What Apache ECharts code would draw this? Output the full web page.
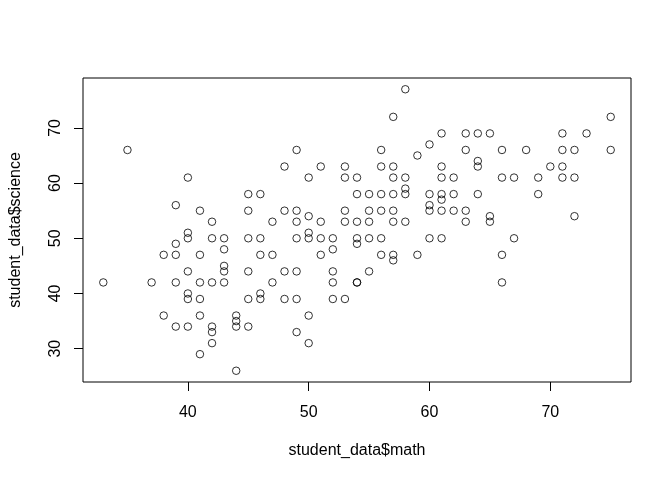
<!DOCTYPE html>
<html>
<head>
<meta charset="utf-8">
<script src="https://cdn.jsdelivr.net/npm/echarts@6/dist/echarts.min.js"></script>
<style>html,body{margin:0;padding:0;background:#fff}#c{width:672px;height:480px}</style>
</head>
<body>
<div id="c"></div>
<script>
const mathScores = [35,40,39,41,42,40,40,42,43,39,43,38,39,41,43,43,40,33,37,39,41,42,43,40,40,41,38,41,39,40,42,42,42,41,
49,48,51,53,50,53,54,45,46,54,45,48,49,53,47,49,50,51,53,54,50,
45,46,49,50,51,52,52,46,47,51,45,48,49,52,47,52,54,45,46,46,48,49,52,53,44,44,44,45,50,49,50,44,
58,57,61,63,64,65,60,56,63,59,64,64,56,57,61,57,58,61,62,55,56,57,58,58,60,61,61,62,64,55,56,57,60,60,61,62,63,55,57,58,63,65,65,
75,71,73,66,68,71,72,75,70,71,66,67,69,71,72,69,72,
54,54,55,56,60,61,56,57,57,59,55,54,67,66,66];
const scienceScores = [66,61,56,55,53,51,50,50,50,49,48,47,47,47,45,44,44,42,42,42,42,42,42,40,39,39,36,36,34,34,34,33,31,29,
66,63,63,63,61,61,61,58,58,58,55,55,55,55,53,53,54,53,53,53,51,
50,50,50,50,50,50,48,47,47,47,44,44,44,44,42,42,42,39,40,39,39,39,39,39,36,35,34,34,36,33,31,26,
77,72,69,69,69,69,67,66,66,65,64,63,63,63,63,61,61,61,61,58,58,58,59,58,58,58,57,58,58,55,55,55,55,56,55,55,55,53,53,53,53,54,53,
72,69,69,66,66,66,66,66,63,63,61,61,61,61,61,58,54,
50,49,50,50,50,50,47,47,46,47,44,42,50,47,42];
const xTickLabels = [40, 50, 60, 70];
const yTickLabels = [30, 40, 50, 60, 70];
const xRange = [31.32, 76.68];
const yRange = [23.96, 79.04];

const points = mathScores.map((m, i) => [m, scienceScores[i]]);
const font = 'Liberation Sans, Arial, Helvetica, sans-serif';
const chart = echarts.init(document.getElementById('c'), null, {renderer: 'canvas'});
chart.setOption({
  animation: false,
  backgroundColor: '#fff',
  grid: {left: 78, top: 78, width: 553, height: 304, show: true, borderColor: '#000', borderWidth: 1, backgroundColor: 'transparent'},
  xAxis: {
    type: 'value', min: xRange[0], max: xRange[1],
    name: 'student_data$math', nameLocation: 'middle', nameGap: 61,
    nameTextStyle: {fontFamily: font, fontSize: 16, color: '#000'},
    axisLine: {show: false},
    splitLine: {show: false},
    axisTick: {show: true, inside: false, length: 9, lineStyle: {color: '#000', width: 1}, customValues: xTickLabels},
    axisLabel: {fontFamily: font, fontSize: 16, color: '#000', margin: 23, customValues: xTickLabels}
  },
  yAxis: {
    type: 'value', min: yRange[0], max: yRange[1],
    name: 'student_data$science', nameLocation: 'middle', nameGap: 59,
    nameTextStyle: {fontFamily: font, fontSize: 16, color: '#000'},
    axisLine: {show: false},
    splitLine: {show: false},
    axisTick: {show: true, inside: false, length: 9, lineStyle: {color: '#000', width: 1}, customValues: yTickLabels},
    axisLabel: {fontFamily: font, fontSize: 16, color: '#000', margin: 19, rotate: 90, customValues: yTickLabels}
  },
  series: [{
    type: 'scatter',
    data: points,
    symbol: 'circle',
    symbolSize: 7.5,
    itemStyle: {color: 'transparent', borderColor: '#000', borderWidth: 1},
    emphasis: {disabled: true}
  }]
});
</script>
</body>
</html>
